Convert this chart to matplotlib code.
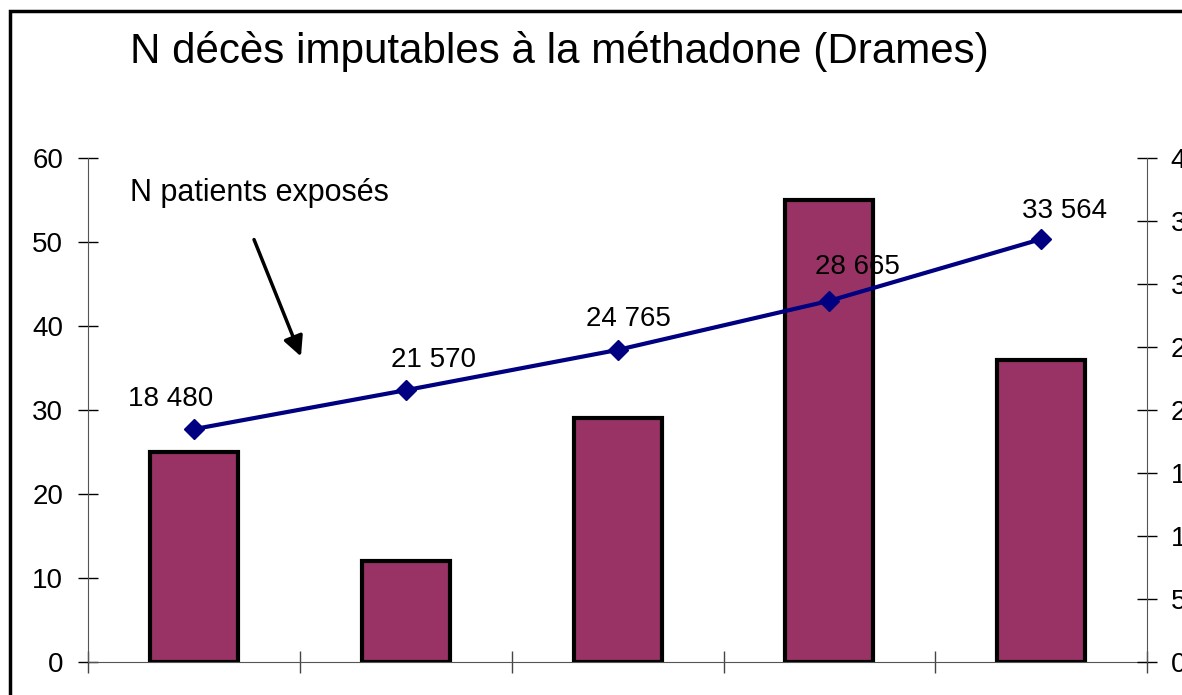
import numpy as np
import matplotlib
matplotlib.use('Agg')
import matplotlib.pyplot as plt
from matplotlib.patches import Rectangle, FancyArrowPatch
from matplotlib.ticker import FuncFormatter

plt.rcParams['font.family'] = ['Liberation Sans', 'DejaVu Sans']

years = ['1', '2', '3', '4', '5']
deces = [25, 12, 29, 55, 36]
patients = [18480, 21570, 24765, 28665, 33564]
patient_labels = ['18 480', '21 570', '24 765', '28 665', '33 564']
label_offsets = [(-17, 22), (20, 22), (8, 22), (20, 24), (17, 20)]

fig = plt.figure(figsize=(11.82, 6.95), dpi=100)
ax = fig.add_axes([0.0745, 0.0475, 0.896, 0.7252])
x = np.arange(len(years))

ax.bar(x, deces, width=0.415, color='#993366', edgecolor='black', linewidth=3, zorder=2)
ax.set_xlim(-0.5, 4.5)
ax.set_ylim(0, 60)
ax.set_yticks(np.arange(0, 61, 10))
ax.set_xticks(np.arange(-0.5, 4.6, 1))
ax.set_xticklabels([])
ax.tick_params(axis='y', direction='inout', length=14, width=1, labelsize=20, pad=11, colors='black')
ax.tick_params(axis='x', direction='inout', length=16, width=1, color='#444444')
for s in ['top', 'right']:
    ax.spines[s].set_visible(False)
ax.spines['left'].set_color('#555555')
ax.spines['bottom'].set_color('#555555')

ax2 = ax.twinx()
ax2.set_ylim(0, 40000)
ax2.set_yticks(np.arange(0, 40001, 5000))
ax2.yaxis.set_major_formatter(FuncFormatter(lambda v, p: f'{int(v):,}'.replace(',', ' ')))
ax2.tick_params(axis='y', direction='inout', length=14, width=1, labelsize=20, pad=10)
for s in ['top', 'left', 'bottom']:
    ax2.spines[s].set_visible(False)
ax2.spines['right'].set_color('#555555')

ax2.plot(x, patients, color='#000080', linewidth=3, marker='D', markersize=10, zorder=3)
for xi, yi, lab, off in zip(x, patients, patient_labels, label_offsets):
    ax2.annotate(lab, (xi, yi), xytext=off, textcoords='offset points',
                 ha='center', va='center', fontsize=20)

fig.text(130 / 1182, 1 - 52 / 695, 'N décès imputables à la méthadone (Drames)',
         fontsize=30.3, ha='left', va='center')
fig.text(130 / 1182, 1 - 193 / 695, 'N patients exposés', fontsize=22, ha='left', va='center')
fig.patches.append(Rectangle((10 / 1182, -0.1), 1.2, 1 - 11 / 695 + 0.1,
                             transform=fig.transFigure, fill=False,
                             edgecolor='black', linewidth=2.5))
fig.add_artist(FancyArrowPatch(
    (253 / 1182, 1 - 237 / 695), (302 / 1182, 1 - 359 / 695),
    transform=fig.transFigure, arrowstyle='-|>', mutation_scale=30,
    color='black', linewidth=2.5))

fig.savefig('out.png', dpi=100)
